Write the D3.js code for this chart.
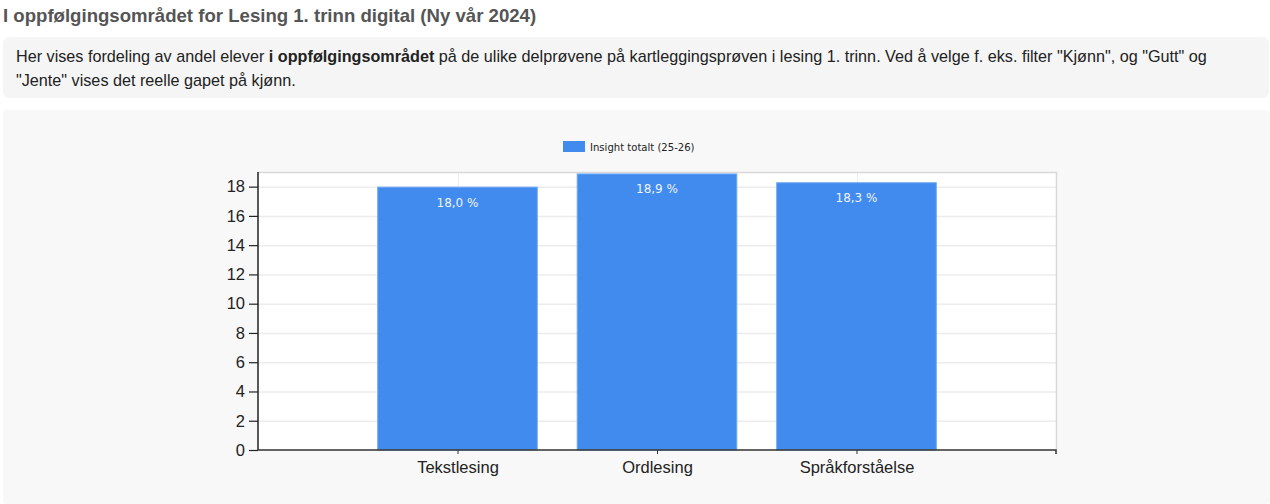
<!DOCTYPE html>
<html>
<head>
<meta charset="utf-8">
<script src="https://cdn.jsdelivr.net/npm/d3@7"></script>
<style>
  html, body { margin: 0; padding: 0; background: #fff; width: 1270px; height: 504px; overflow: hidden; font-family: "Liberation Sans", Arial, sans-serif; }
  .title { position: absolute; left: 3px; top: 5px; font-size: 18.6px; font-weight: bold; color: #555; white-space: nowrap; }
  .desc { position: absolute; left: 3px; top: 37px; width: 1266px; height: 61px; background: #f5f5f5; border-radius: 6px; box-sizing: border-box; padding: 7px 13px; font-size: 16.2px; line-height: 24px; color: #222; white-space: nowrap; }
  #chart { position: absolute; left: 0; top: 110px; }
</style>
</head>
<body>
<div class="title">I oppfølgingsområdet for Lesing 1. trinn digital (Ny vår 2024)</div>
<div class="desc">Her vises fordeling av andel elever <b>i oppfølgingsområdet</b> på de ulike delprøvene på kartleggingsprøven i lesing 1. trinn. Ved å velge f. eks. filter "Kjønn", og "Gutt" og<br>"Jente" vises det reelle gapet på kjønn.</div>
<div id="chart"></div>
<script>
const categories = ["Tekstlesing", "Ordlesing", "Språkforståelse"];
const values = [18.0, 18.9, 18.3];
const valueLabels = ["18,0 %", "18,9 %", "18,3 %"];
const seriesName = "Insight totalt (25-26)";
const yTicks = [0, 2, 4, 6, 8, 10, 12, 14, 16, 18];

const W = 1270, H = 394;
const svg = d3.select("#chart").append("svg").attr("width", W).attr("height", H);
svg.append("rect").attr("x", 3).attr("y", 0).attr("width", W - 3).attr("height", H).attr("rx", 4).attr("fill", "#f8f8f8");

const plot = { left: 258, right: 1056, top: 62, bottom: 340 };
const x = d3.scaleLinear().domain([0, categories.length + 1]).range([plot.left, plot.right]);
const y = d3.scaleLinear().domain([0, 19]).range([plot.bottom, plot.top]);

// plot background
svg.append("rect").attr("x", plot.left).attr("y", plot.top).attr("width", plot.right - plot.left).attr("height", plot.bottom - plot.top).attr("fill", "#fff");

// grid
svg.append("g").selectAll("line").data(yTicks.filter(d => d > 0)).join("line")
  .attr("x1", plot.left).attr("x2", plot.right).attr("y1", d => y(d) + 0.5).attr("y2", d => y(d) + 0.5)
  .attr("stroke", "#ececec").attr("stroke-width", 1.5);
svg.append("g").selectAll("line").data(categories).join("line")
  .attr("x1", (d, i) => Math.round(x(i + 1)) + 0.5).attr("x2", (d, i) => Math.round(x(i + 1)) + 0.5)
  .attr("y1", plot.top).attr("y2", plot.bottom).attr("stroke", "#eeeeee");

// top/right frame
svg.append("path").attr("d", `M${plot.left},${plot.top + 0.5}H${plot.right + 0.5}V${plot.bottom}`)
  .attr("fill", "none").attr("stroke", "#d8d8d8").attr("stroke-width", 1.5);

// bars
const bw = x(0.8) - x(0);
svg.append("g").selectAll("rect").data(values).join("rect")
  .attr("x", (d, i) => x(i + 1) - bw / 2).attr("width", bw)
  .attr("y", d => y(d) + 0.5).attr("height", d => y(0) - y(d) - 0.5)
  .attr("fill", "#428bee").attr("stroke", "#6fa8f3").attr("stroke-width", 1);

svg.append("g").selectAll("text").data(values).join("text")
  .attr("x", (d, i) => x(i + 1)).attr("y", d => y(d) + 20)
  .attr("text-anchor", "middle").attr("fill", "#eef3fb")
  .attr("font-family", "'DejaVu Sans', sans-serif").attr("font-size", 12)
  .text((d, i) => valueLabels[i]);

// y axis
const yAxis = svg.append("g").attr("transform", `translate(${plot.left},0)`)
  .call(d3.axisLeft(y).tickValues(yTicks).tickSize(9).tickPadding(4));
yAxis.selectAll("text").attr("font-size", 16.5).attr("font-family", "'Liberation Sans', Arial, sans-serif").attr("fill", "#222");
yAxis.select(".domain").attr("stroke", "#222").attr("stroke-width", 1.5).attr("d", `M0,${plot.top}V${plot.bottom}`);
yAxis.selectAll(".tick line").attr("stroke", "#222").attr("stroke-width", 1.2);

// x axis
const xAxis = svg.append("g").attr("transform", `translate(0,${plot.bottom})`)
  .call(d3.axisBottom(x).tickValues(categories.map((c, i) => i + 1)).tickFormat((d) => categories[d - 1]).tickSize(4).tickPadding(7));
xAxis.select(".domain").attr("stroke", "#333").attr("stroke-width", 1.5).attr("d", `M${plot.left},0H${plot.right}V4`);
xAxis.selectAll(".tick line").attr("stroke", "#333");
xAxis.selectAll("text").attr("font-size", 16.5).attr("font-family", "'Liberation Sans', Arial, sans-serif").attr("fill", "#222");

// legend
const lg = svg.append("g").attr("transform", "translate(563,31)");
lg.append("rect").attr("width", 22).attr("height", 11).attr("fill", "#428bee");
lg.append("text").attr("x", 27).attr("y", 9.5).attr("font-size", 11.2)
  .attr("font-family", "'DejaVu Sans Condensed', 'DejaVu Sans', sans-serif").attr("fill", "#222").text(seriesName);
</script>
</body>
</html>
